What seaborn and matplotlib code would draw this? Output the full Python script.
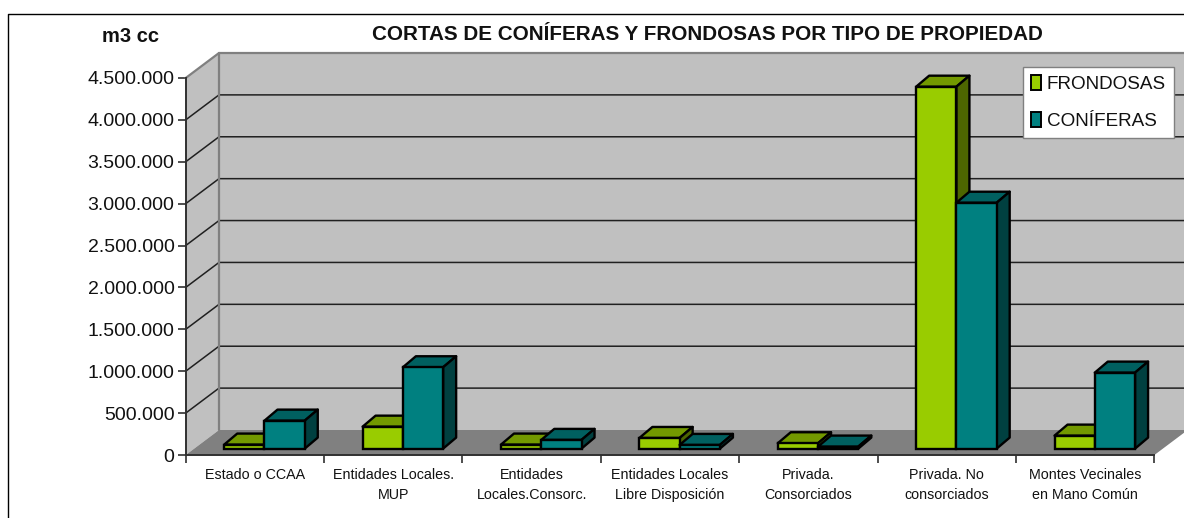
import matplotlib
matplotlib.use("Agg")
import matplotlib.pyplot as plt
import seaborn as sns
import pandas as pd
import numpy as np
from matplotlib.patches import Polygon, Patch
from matplotlib.lines import Line2D
from matplotlib.ticker import FuncFormatter, MultipleLocator, FixedLocator

categories = ["Estado o CCAA", "Entidades Locales.\nMUP", "Entidades\nLocales.Consorc.",
              "Entidades Locales\nLibre Disposición", "Privada.\nConsorciados",
              "Privada. No\nconsorciados", "Montes Vecinales\nen Mano Común"]
frondosas = [48000, 262000, 48000, 127000, 64000, 4320000, 155000]
coniferas = [334000, 971000, 104000, 44000, 24000, 2935000, 907000]
series_names = ["FRONDOSAS", "CONÍFERAS"]
y_max = 4500000
y_step = 500000

sns.set_style("white")
plt.rcParams["font.family"] = ["Liberation Sans", "DejaVu Sans"]

W, H = 1184, 518
fig = plt.figure(figsize=(W / 100, H / 100), dpi=100, facecolor="white")
L, R, T, B = 185.7, 1154.4, 78.0, 455.0
ax = fig.add_axes([L / W, 1 - B / H, (R - L) / W, (B - T) / H])
ax.patch.set_visible(False)

df = pd.DataFrame({
    "cat": categories * 2,
    "val": frondosas + coniferas,
    "serie": [series_names[0]] * 7 + [series_names[1]] * 7,
})
front = {"FRONDOSAS": "#99CC00", "CONÍFERAS": "#008080"}
top = {"FRONDOSAS": "#739900", "CONÍFERAS": "#006060"}
side = {"FRONDOSAS": "#4D6600", "CONÍFERAS": "#004040"}

sns.barplot(data=df, x="cat", y="val", hue="serie", order=categories, palette=front,
            saturation=1, width=0.582, legend=False, edgecolor="black", linewidth=1.7, ax=ax)
ax.set_xlim(-0.5, 6.5)
ax.set_ylim(0, y_max)
ax.set_xlabel("")
ax.set_ylabel("")

px_x = (R - L) / 7            # pixels per category
px_y = (B - T) / y_max        # pixels per unit
ux = lambda p: p / px_x
uy = lambda p: p / px_y

# walls and floor
wdx, wdy = 33.3, 25.0
x0 = -0.5
x1 = 6.5
xe = x1 + ux(wdx)
ax.add_patch(Polygon([(x0 + ux(wdx), uy(wdy)), (xe, uy(wdy)), (xe, y_max + uy(wdy)), (x0 + ux(wdx), y_max + uy(wdy))],
                     closed=True, fc="#C0C0C0", ec="none", clip_on=False, zorder=0.5))
ax.add_patch(Polygon([(x0, 0), (x0 + ux(wdx), uy(wdy)), (x0 + ux(wdx), y_max + uy(wdy)), (x0, y_max)],
                     closed=True, fc="#C0C0C0", ec="none", clip_on=False, zorder=0.5))
ax.add_patch(Polygon([(x0, 0), (x0 + ux(wdx), uy(wdy)), (xe, uy(wdy)), (x1, 0)],
                     closed=True, fc="#808080", ec="none", clip_on=False, zorder=0.6))
for v in np.arange(y_step, y_max + 1, y_step):
    c = "#808080" if v == y_max else "#202020"
    lw = 1.6 if v == y_max else 1.1
    ax.plot([x0, x0 + ux(wdx), xe], [v, v + uy(wdy), v + uy(wdy)], color=c, lw=lw,
            clip_on=False, zorder=0.8, solid_joinstyle="miter")
ax.plot([x0 + ux(wdx)] * 2, [uy(wdy), y_max + uy(wdy)], color="#808080", lw=1.6, clip_on=False, zorder=0.9)

# 3D bar faces built from the bars seaborn drew
ox, oy = 9.6, 6.4
bdx, bdy = 13.0, 11.0
for s, container in enumerate(ax.containers):
    name = series_names[s]
    for i, bar in enumerate(container):
        z = 3 + i * 2 + s
        bar.set_x(bar.get_x() + ux(ox))
        bar.set_y(uy(oy))
        bar.set_zorder(z + 0.5)
        bar.set_clip_on(False)
        xa, xb = bar.get_x(), bar.get_x() + bar.get_width()
        yb, yt = bar.get_y(), bar.get_y() + bar.get_height()
        dx, dy = ux(bdx), uy(bdy)
        ax.add_patch(Polygon([(xa, yt), (xa + dx, yt + dy), (xb + dx, yt + dy), (xb, yt)], closed=True,
                             fc=top[name], ec="black", lw=1.7, clip_on=False, zorder=z, joinstyle="round"))
        ax.add_patch(Polygon([(xb, yb), (xb + dx, yb + dy), (xb + dx, yt + dy), (xb, yt)], closed=True,
                             fc=side[name], ec="black", lw=1.7, clip_on=False, zorder=z, joinstyle="round"))

# axes
for s in ["top", "right"]:
    ax.spines[s].set_visible(False)
for s in ["left", "bottom"]:
    ax.spines[s].set_visible(True)
    ax.spines[s].set_color("#303030")
    ax.spines[s].set_linewidth(1.4)
    ax.spines[s].set_zorder(2)
ax.yaxis.set_major_locator(MultipleLocator(y_step))
ax.yaxis.set_major_formatter(FuncFormatter(lambda v, _: f"{v:,.0f}".replace(",", ".")))
ax.xaxis.set_minor_locator(FixedLocator(np.arange(-0.5, 7, 1)))
ax.tick_params(axis="y", which="major", left=True, length=6, width=1.2, color="#303030",
               labelsize=14, labelcolor="#111111", pad=2)
ax.tick_params(axis="x", which="major", bottom=False, length=0, labelsize=10.3, labelcolor="#111111", pad=9.5)
ax.tick_params(axis="x", which="minor", bottom=True, length=6, width=1.2, color="#303030")
for t in ax.get_xticklabels():
    t.set_linespacing(1.5)
    t.set_va("top")

# titles
fig.text(707 / W, 1 - 34 / H, "CORTAS DE CONÍFERAS Y FRONDOSAS POR TIPO DE PROPIEDAD", ha="center", va="center",
         fontsize=14.9, fontweight="bold", color="#111111")
fig.text(130.5 / W, 1 - 36.5 / H, "m3 cc", ha="center", va="center", fontsize=14.5, fontweight="bold", color="#111111")

# legend
handles = [Patch(fc=front[n], ec="black", lw=1.4) for n in series_names]
leg = ax.legend(handles, series_names, loc="upper left",
                bbox_to_anchor=(1023 / W, 1 - 67 / H), bbox_transform=fig.transFigure,
                frameon=True, fancybox=False, framealpha=1, edgecolor="#808080", facecolor="white",
                fontsize=13.6, handlelength=0.55, handleheight=0.85, handletextpad=0.3,
                labelspacing=0.98, borderpad=0.42, borderaxespad=0, labelcolor="#111111")
leg.set_zorder(50)

# outer frame
fig.add_artist(Line2D([8 / W, 8 / W, 1], [0, 1 - 14 / H, 1 - 14 / H], color="black", lw=1.0))

fig.savefig("out.png", dpi=100, facecolor="white")
